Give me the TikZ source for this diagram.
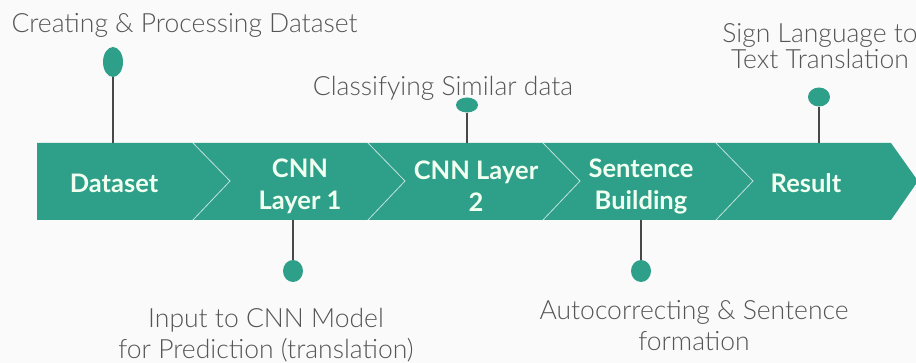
\documentclass[tikz,border=0pt]{standalone}
\usepackage{fontspec}
\setmainfont{Lato}
\newfontfamily\thinfont{Lato Light}
\usetikzlibrary{shapes.geometric}

\definecolor{stagegreen}{HTML}{2E9F89}
\definecolor{notegray}{HTML}{555555}
\definecolor{stemgray}{HTML}{484848}

\begin{document}
\begin{tikzpicture}[x=1pt, y=-1pt,
    stage/.style={text=white!94!green, font=\bfseries\fontsize{25.5}{32}\selectfont, align=center},
    pin/.style={ellipse, fill=stagegreen, inner sep=0pt},
    note/.style={text=notegray, font=\thinfont\fontsize{26.5}{31}\selectfont, align=center},
    stem/.style={draw=stemgray, line width=1.3pt}]

    % Page and band edges
    \fill[white!98!black] (0,0) rectangle (916,363);
    \useasboundingbox (0,0) rectangle (916,363);
    \coordinate (btop) at (0,143);
    \coordinate (bbot) at (0,220);

    % Draw the arrow band and its chevron dividers
    \fill[stagegreen] (37,143) -- (891,143) -- (918,181) -- (891,220) -- (37,220) -- cycle;
    \foreach \x in {193,368,543,716}
        \draw[white, opacity=0.7, line width=0.8pt] (\x,143) -- (\x+37,181) -- (\x,220);

    % Stages
    \node[stage] (dataset)  at (114,183) {Dataset};
    \node[stage] (cnn1)     at (300,186) {CNN\\Layer 1};
    \node[stage] (cnn2)     at (476,186) {CNN Layer\\2};
    \node[stage] (sentence) at (641,186) {Sentence\\Building};
    \node[stage] (result)   at (806,183) {Result};

    % Pins above the band
    \node[pin, minimum width=20, minimum height=30] (pdata)   at (113,62) {};
    \node[pin, minimum width=22, minimum height=15] (pclass)  at (467,105) {};
    \node[pin, minimum width=22, minimum height=19] (psign)   at (819,97) {};
    \draw[stem] (pdata.south)  -- (pdata.south |- btop);
    \draw[stem] (pclass.south) -- (pclass.south |- btop);
    \draw[stem] (psign.south)  -- (psign.south |- btop);

    % Pins below the band
    \node[pin, minimum width=20, minimum height=22] (pinput) at (293,271) {};
    \node[pin, minimum width=20, minimum height=22] (pauto)  at (641,271) {};
    \draw[stem] (pinput.north |- bbot) -- (pinput.north);
    \draw[stem] (pauto.north |- bbot)  -- (pauto.north);

    % Notes
    \node[note, anchor=west] (ncreate) at (8,25) {Creating \& Processing Dataset};
    \node[note] (nclass) at (443,88)  {Classifying Similar data};
    \node[note, font=\thinfont\fontsize{26.5}{26}\selectfont] (nsign) at (820,46) {Sign Language to\\Text Translation};
    \node[note] (ninput) at (266,335) {Input to CNN Model\\for Prediction (translation)};
    \node[note] (nauto)  at (694,326) {Autocorrecting \& Sentence\\formation};
\end{tikzpicture}
\end{document}
